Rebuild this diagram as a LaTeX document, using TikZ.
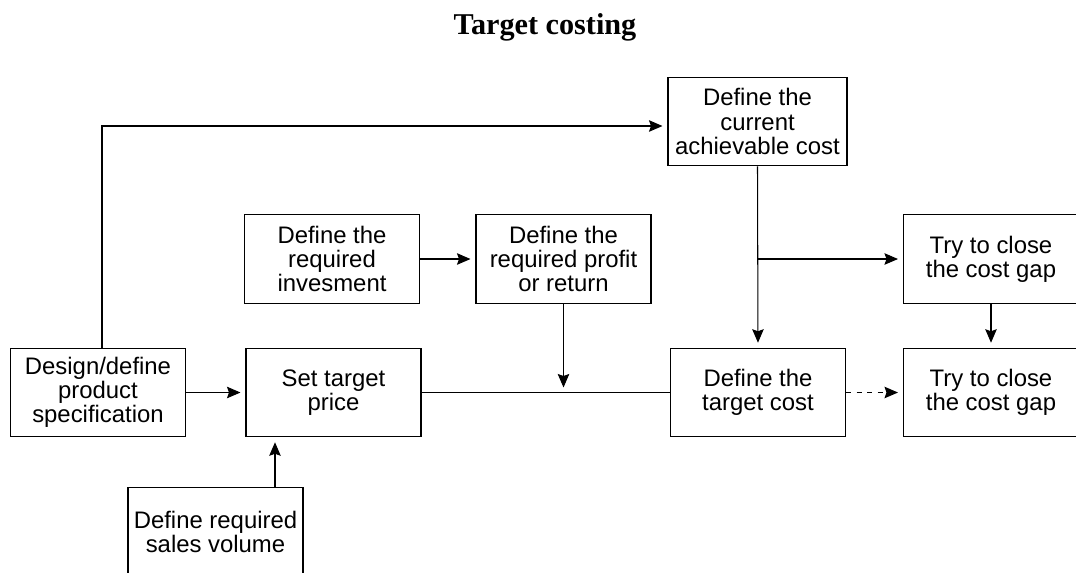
\documentclass[tikz,border=0pt]{standalone}
\usepackage{fontspec}
\setmainfont{Liberation Sans}
\newfontfamily\titlefont{Liberation Serif}
\usetikzlibrary{arrows.meta,calc}

\begin{document}
\begin{tikzpicture}[x=0.02cm,y=-0.02cm,
	box/.style={draw,line width=0.6pt,minimum width=3.5cm,minimum height=1.77cm,inner sep=0pt,align=center,font=\fontsize{13.6}{13.7}\selectfont},
	flow/.style={line width=0.6pt,-{Stealth[length=0.27cm,width=0.23cm,inset=0.04cm]},shorten >=0.1cm}]
				%%%%% START %%%%%
				\useasboundingbox (0,0) rectangle (1076,572);
				\node (title) at (545,27) {\titlefont\bfseries\fontsize{17.2}{20}\selectfont Target costing};
				
				\node[box,minimum width=3.58cm] (achieve) at (757.5,121.5) {Define the\\current\\achievable cost};
				
				\node[box] (invest) at (332,259) {Define the\\required\\invesment};
				\node[box] (profit) at (563.5,259) {Define the\\required profit\\or return};
				\node[box] (gapA) at (991,259) {Try to close\\the cost gap};
				
				\node[box] (design) at (98,392.5) {Design/define\\product\\specification};
				\node[box] (price) at (333.5,392.5) {Set target\\price};
				\node[box] (target) at (758,392.5) {Define the\\target cost};
				\node[box] (gapB) at (991,392.5) {Try to close\\the cost gap};
				
				\node[box] (sales) at (215.5,531.5) {Define required\\sales volume};
				
				\draw[flow] ([xshift=0.08cm]design.north) |- ([yshift=-0.09cm]achieve.west);
				\draw[flow] (design.east) -- (price.west);
				\draw[flow] ([xshift=1.19cm]sales.north) -- ([xshift=1.19cm]sales.north |- price.south);
				\draw[flow] (invest.east) -- (profit.west);
				\draw[line width=0.6pt] (price.east) -- (target.west);
				\draw[flow] (profit.south) -- (profit.south |- price.east);
				\draw[flow] (achieve.south) -- (target.north);
				\draw[flow] (achieve.south |- gapA.west) -- (gapA.west);
				\draw[flow] (gapA.south) -- (gapB.north);
				\draw[flow,dashed] (target.east) -- (gapB.west);
				%%%%% END %%%%%
\end{tikzpicture}
\end{document}
